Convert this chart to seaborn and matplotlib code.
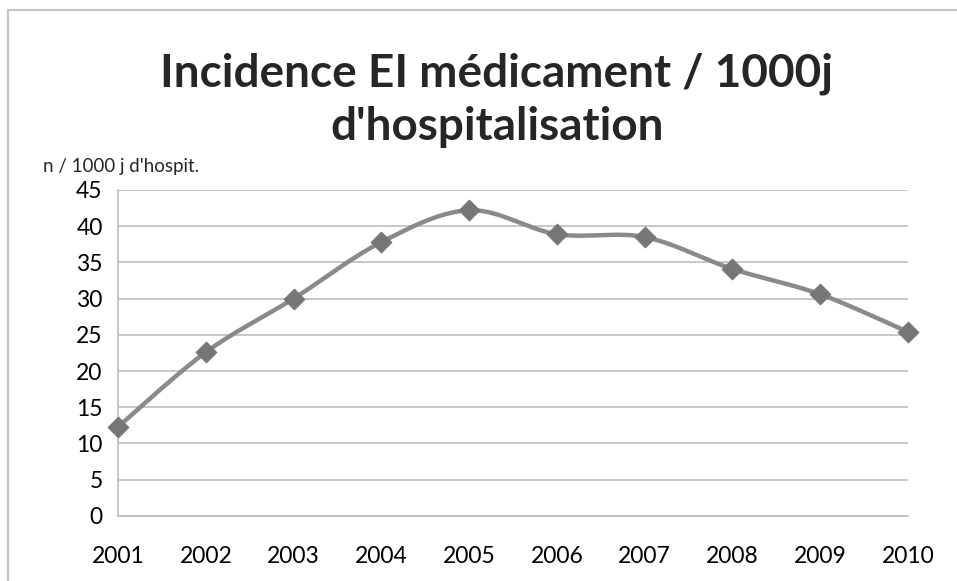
import numpy as np
import pandas as pd
import matplotlib
matplotlib.use("Agg")
import matplotlib.pyplot as plt
import seaborn as sns

# data
years = [2001, 2002, 2003, 2004, 2005, 2006, 2007, 2008, 2009, 2010]
incidence = [12.3, 22.6, 30.0, 37.8, 42.2, 38.9, 38.5, 34.1, 30.6, 25.4]

title = "Incidence EI médicament / 1000j\nd'hospitalisation"
ylabel = "n / 1000 j d'hospit."

sns.set_style("white")
plt.rcParams['font.family'] = ['Lato', 'DejaVu Sans']


# smooth line like the spreadsheet (Catmull-Rom through the points)
def smooth(x, y, n=20):
    x = np.asarray(x, float)
    y = np.asarray(y, float)
    px = np.concatenate([[x[0]], x, [x[-1]]])
    py = np.concatenate([[y[0]], y, [y[-1]]])
    xs, ys = [], []
    t = np.linspace(0, 1, n)
    for i in range(1, len(px) - 2):
        for p, out in ((px, xs), (py, ys)):
            p0, p1, p2, p3 = p[i - 1], p[i], p[i + 1], p[i + 2]
            out.extend(0.5 * ((2 * p1) + (-p0 + p2) * t
                              + (2 * p0 - 5 * p1 + 4 * p2 - p3) * t ** 2
                              + (-p0 + 3 * p1 - 3 * p2 + p3) * t ** 3))
    return np.array(xs), np.array(ys)


df = pd.DataFrame({"year": years, "value": incidence})
sx, sy = smooth(years, incidence)
line_df = pd.DataFrame({"year": sx, "value": sy})

fig = plt.figure(figsize=(9.57, 5.81), dpi=100)
ax = fig.add_axes([0.1233, 0.112, 0.8255, 0.561])

sns.lineplot(data=line_df, x="year", y="value", color="#8a8a8a", linewidth=3.2,
             sort=False, ax=ax, zorder=3, clip_on=False)
sns.scatterplot(data=df, x="year", y="value", marker="D", s=110, color="#767676",
                edgecolor="#767676", ax=ax, zorder=4, clip_on=False)

ax.set_xlim(2001, 2010)
ax.set_ylim(0, 45)
ax.set_yticks(range(0, 46, 5))
ax.set_xticks(years)
ax.set_xticklabels([str(y) for y in years])
ax.yaxis.grid(True, color="#bdbdbd", linewidth=1.2)
ax.set_xlabel("")
ax.set_ylabel("")
for side in ["top", "right"]:
    ax.spines[side].set_visible(False)
ax.spines["left"].set_color("#bdbdbd")
ax.spines["bottom"].set_color("#bdbdbd")
ax.spines["left"].set_linewidth(1.2)
ax.spines["bottom"].set_linewidth(1.2)
ax.tick_params(axis="both", which="both", length=7, width=1.2, color="#bdbdbd",
               labelsize=16.5, labelcolor="black", direction="out")
ax.tick_params(axis="y", pad=4)
ax.tick_params(axis="x", pad=15)

fig.text(0.519, 0.828, title, ha="center", va="center", fontsize=33,
         fontweight="bold", linespacing=1.33)
fig.text(0.045, 0.714, ylabel, ha="left", va="center", fontsize=13.5)

# chart frame
fig.add_artist(plt.Line2D([0.008, 1.0], [0.983, 0.983], color="#c4c4c4", linewidth=1.5))
fig.add_artist(plt.Line2D([0.008, 0.008], [0.0, 0.983], color="#c4c4c4", linewidth=1.5))

fig.savefig("out.png", dpi=100)
